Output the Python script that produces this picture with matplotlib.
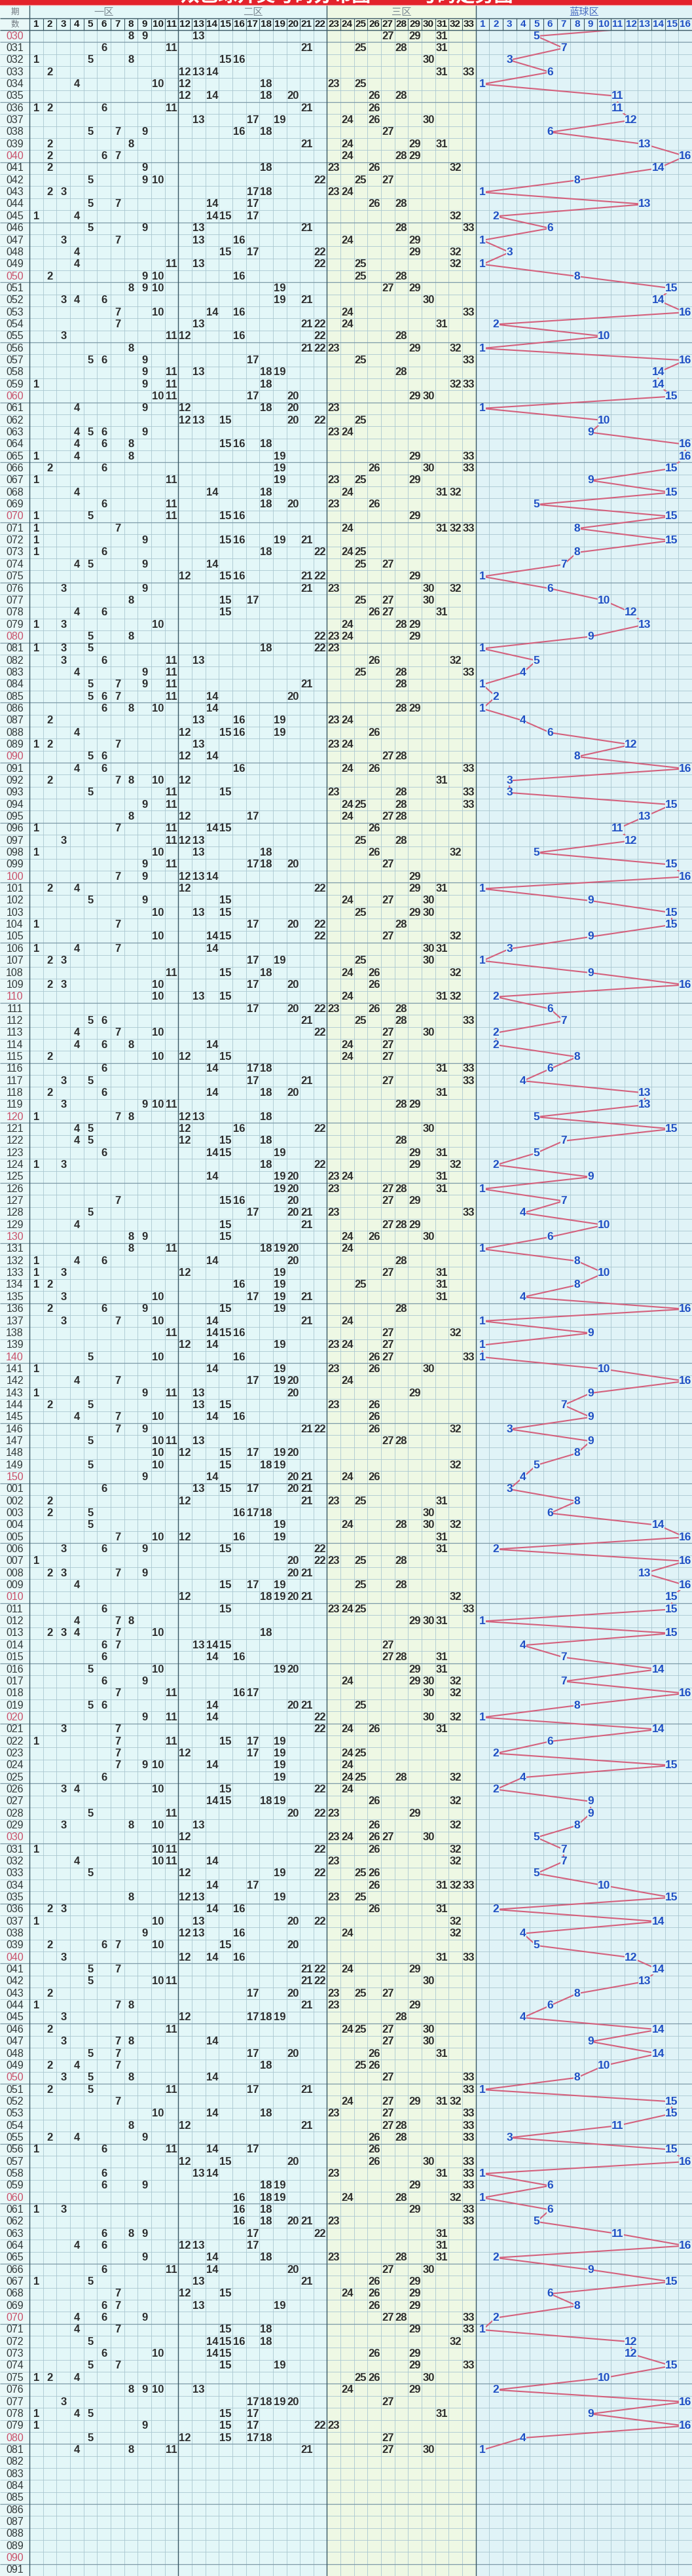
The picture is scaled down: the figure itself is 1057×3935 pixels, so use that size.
import matplotlib
matplotlib.use("Agg")
import matplotlib.pyplot as plt
from matplotlib.patches import Rectangle

# ---- data ----
# issue numbers: 030..150 of the first year, then 001..091 of the next one
issues_a = [f"{n:03d}" for n in range(30, 151)]
issues_b = [f"{n:03d}" for n in range(1, 92)]

# red balls (six per draw) and blue ball, first year 030..150
red_a = [
    [8, 9, 13, 27, 29, 31], [6, 11, 21, 25, 28, 31], [1, 5, 8, 15, 16, 30], [2, 12, 13, 14, 31, 33],
    [4, 10, 12, 18, 23, 25], [12, 14, 18, 20, 26, 28], [1, 2, 6, 11, 21, 26], [13, 17, 19, 24, 26, 30],
    [5, 7, 9, 16, 18, 27], [2, 8, 21, 24, 29, 31], [2, 6, 7, 24, 28, 29], [2, 9, 18, 23, 26, 32],
    [5, 9, 10, 22, 25, 27], [2, 3, 17, 18, 23, 24], [5, 7, 14, 17, 26, 28], [1, 4, 14, 15, 17, 32],
    [5, 9, 13, 21, 28, 33], [3, 7, 13, 16, 24, 29], [4, 15, 17, 22, 29, 32], [4, 11, 13, 22, 25, 32],
    [2, 9, 10, 16, 25, 28], [8, 9, 10, 19, 27, 29], [3, 4, 6, 19, 21, 30], [7, 10, 14, 16, 24, 33],
    [7, 13, 21, 22, 24, 31], [3, 11, 12, 16, 22, 28], [8, 21, 22, 23, 29, 32], [5, 6, 9, 17, 25, 33],
    [9, 11, 13, 18, 19, 28], [1, 9, 11, 18, 32, 33], [10, 11, 17, 20, 29, 30], [4, 9, 12, 18, 20, 23],
    [12, 13, 15, 20, 22, 25], [4, 5, 6, 9, 23, 24], [4, 6, 8, 15, 16, 18], [1, 4, 8, 19, 29, 33],
    [2, 6, 19, 26, 30, 33], [1, 11, 19, 23, 25, 29], [4, 14, 18, 24, 31, 32], [6, 11, 18, 20, 23, 26],
    [1, 5, 11, 15, 16, 29], [1, 7, 24, 31, 32, 33], [1, 9, 15, 16, 19, 21], [1, 6, 18, 22, 24, 25],
    [4, 5, 9, 14, 25, 27], [12, 15, 16, 21, 22, 29], [3, 9, 21, 23, 30, 32], [8, 15, 17, 25, 27, 30],
    [4, 6, 15, 26, 27, 31], [1, 3, 10, 24, 28, 29], [5, 8, 22, 23, 24, 29], [1, 3, 5, 18, 22, 23],
    [3, 6, 11, 13, 26, 32], [4, 9, 11, 25, 28, 33], [5, 7, 9, 11, 21, 28], [5, 6, 7, 11, 14, 20],
    [6, 8, 10, 14, 28, 29], [2, 13, 16, 19, 23, 24], [4, 12, 15, 16, 19, 26], [1, 2, 7, 13, 23, 24],
    [5, 6, 12, 14, 27, 28], [4, 6, 16, 24, 26, 33], [2, 7, 8, 10, 12, 31], [5, 11, 15, 23, 28, 33],
    [9, 11, 24, 25, 28, 33], [8, 12, 17, 24, 27, 28], [1, 7, 11, 14, 15, 26], [3, 11, 12, 13, 25, 28],
    [1, 10, 13, 18, 26, 32], [9, 11, 17, 18, 20, 27], [7, 9, 12, 13, 14, 29], [2, 4, 12, 22, 29, 31],
    [5, 9, 15, 24, 27, 30], [10, 13, 15, 25, 29, 30], [1, 7, 17, 20, 22, 28], [10, 14, 15, 22, 27, 32],
    [1, 4, 7, 14, 30, 31], [2, 3, 17, 19, 25, 30], [11, 15, 18, 24, 26, 32], [2, 3, 10, 17, 20, 26],
    [10, 13, 15, 24, 31, 32], [17, 20, 22, 23, 26, 28], [5, 6, 21, 25, 28, 33], [4, 7, 10, 22, 27, 30],
    [4, 6, 8, 14, 24, 27], [2, 10, 12, 15, 24, 27], [6, 14, 17, 18, 31, 33], [3, 5, 17, 21, 27, 33],
    [2, 6, 14, 18, 20, 31], [3, 9, 10, 11, 28, 29], [1, 7, 8, 12, 13, 18], [4, 5, 12, 16, 22, 30],
    [4, 5, 12, 15, 18, 28], [6, 14, 15, 19, 29, 31], [1, 3, 18, 22, 29, 32], [14, 19, 20, 23, 24, 31],
    [19, 20, 23, 27, 28, 31], [7, 15, 16, 20, 27, 29], [5, 17, 20, 21, 23, 33], [4, 15, 21, 27, 28, 29],
    [8, 9, 15, 24, 26, 30], [8, 11, 18, 19, 20, 24], [1, 4, 6, 14, 20, 28], [1, 3, 12, 19, 27, 31],
    [1, 2, 16, 19, 25, 31], [3, 10, 17, 19, 21, 31], [2, 6, 9, 15, 19, 28], [3, 7, 10, 14, 21, 24],
    [11, 14, 15, 16, 27, 32], [12, 14, 19, 23, 24, 27], [5, 10, 16, 26, 27, 33], [1, 14, 19, 23, 26, 30],
    [4, 7, 17, 19, 20, 24], [1, 9, 11, 13, 20, 29], [2, 5, 13, 15, 23, 26], [4, 7, 10, 14, 16, 26],
    [7, 9, 21, 22, 26, 32], [5, 10, 11, 13, 27, 28], [10, 12, 15, 17, 19, 20], [5, 10, 15, 18, 19, 32],
    [9, 14, 20, 21, 24, 26],
]
blue_a = [
    5, 7, 3, 6, 1, 11, 11, 12, 6, 13, 16, 14, 8, 1, 13, 2, 6, 1, 3, 1,
    8, 15, 14, 16, 2, 10, 1, 16, 14, 14, 15, 1, 10, 9, 16, 16, 15, 9, 15, 5,
    15, 8, 15, 8, 7, 1, 6, 10, 12, 13, 9, 1, 5, 4, 1, 2, 1, 4, 6, 12,
    8, 16, 3, 3, 15, 13, 11, 12, 5, 15, 16, 1, 9, 15, 15, 9, 3, 1, 9, 16,
    2, 6, 7, 2, 2, 8, 6, 4, 13, 13, 5, 15, 7, 5, 2, 9, 1, 7, 4, 10,
    6, 1, 8, 10, 8, 4, 16, 1, 9, 1, 1, 10, 16, 9, 7, 9, 3, 9, 8, 5,
    4,
]

# second year 001..081 (082..091 not drawn yet)
red_b = [
    [6, 13, 15, 17, 20, 21], [2, 12, 21, 23, 25, 31], [2, 5, 16, 17, 18, 30], [5, 19, 24, 28, 30, 32],
    [7, 10, 12, 16, 19, 31], [3, 6, 9, 15, 22, 31], [1, 20, 22, 23, 25, 28], [2, 3, 7, 9, 20, 21],
    [4, 15, 17, 19, 25, 28], [12, 18, 19, 20, 21, 32], [6, 15, 23, 24, 25, 33], [4, 7, 8, 29, 30, 31],
    [2, 3, 4, 7, 10, 18], [6, 7, 13, 14, 15, 27], [6, 14, 16, 27, 28, 31], [5, 10, 19, 20, 29, 31],
    [6, 9, 24, 29, 30, 32], [7, 11, 16, 17, 30, 32], [5, 6, 14, 20, 21, 25], [9, 11, 14, 22, 30, 32],
    [3, 7, 22, 24, 26, 31], [1, 7, 11, 15, 17, 19], [7, 12, 17, 19, 24, 25], [7, 9, 10, 14, 19, 24],
    [6, 19, 24, 25, 28, 32], [3, 4, 10, 15, 22, 24], [14, 15, 18, 19, 26, 32], [5, 11, 20, 22, 23, 29],
    [3, 8, 10, 13, 26, 32], [12, 23, 24, 26, 27, 30], [1, 10, 11, 22, 26, 32], [4, 10, 11, 14, 23, 32],
    [5, 12, 19, 22, 25, 26], [14, 17, 26, 31, 32, 33], [8, 12, 13, 19, 23, 25], [2, 3, 14, 16, 26, 31],
    [1, 10, 13, 20, 22, 32], [9, 12, 13, 16, 24, 32], [2, 6, 7, 10, 15, 20], [3, 12, 14, 16, 31, 33],
    [5, 7, 21, 22, 24, 29], [5, 10, 11, 21, 22, 30], [2, 17, 20, 23, 25, 27], [1, 7, 8, 21, 23, 29],
    [3, 12, 17, 18, 19, 28], [2, 11, 24, 25, 27, 30], [3, 7, 8, 14, 27, 30], [5, 7, 17, 20, 26, 31],
    [2, 4, 7, 18, 25, 26], [3, 5, 8, 14, 27, 33], [2, 5, 11, 17, 21, 33], [7, 24, 27, 29, 31, 32],
    [10, 14, 18, 23, 27, 33], [8, 12, 21, 27, 28, 33], [2, 4, 9, 26, 28, 33], [1, 6, 11, 14, 17, 26],
    [12, 15, 20, 26, 30, 33], [6, 13, 14, 23, 31, 33], [6, 9, 18, 19, 29, 33], [16, 18, 19, 24, 28, 32],
    [1, 3, 16, 18, 29, 33], [16, 18, 20, 21, 23, 33], [6, 8, 9, 17, 22, 31], [4, 6, 12, 13, 17, 31],
    [9, 14, 18, 23, 28, 31], [6, 11, 14, 20, 27, 30], [1, 5, 13, 21, 26, 29], [7, 12, 15, 24, 26, 29],
    [6, 7, 13, 19, 26, 29], [4, 6, 9, 27, 28, 33], [4, 7, 15, 18, 29, 33], [5, 14, 15, 16, 18, 32],
    [6, 10, 14, 15, 26, 29], [5, 7, 15, 19, 29, 33], [1, 2, 4, 25, 26, 30], [8, 9, 10, 13, 24, 29],
    [3, 17, 18, 19, 20, 27], [1, 4, 5, 15, 17, 31], [1, 9, 15, 17, 22, 23], [5, 12, 15, 17, 18, 27],
    [4, 8, 11, 21, 27, 30],
]
blue_b = [
    3, 8, 6, 14, 16, 2, 16, 13, 16, 15, 15, 1, 15, 4, 7, 14, 7, 16, 8, 1,
    14, 6, 2, 15, 4, 2, 9, 9, 8, 5, 7, 7, 5, 10, 15, 2, 14, 4, 5, 12,
    14, 13, 8, 6, 4, 14, 9, 14, 10, 8, 1, 15, 15, 11, 3, 15, 16, 1, 6, 1,
    6, 5, 11, 16, 2, 9, 15, 6, 8, 2, 1, 12, 12, 15, 10, 2, 16, 9, 16, 4,
    1,
]
blue_before = 16  # issue 029, hidden under the header; only its segment shows

zone_names = ["一区", "二区", "三区"]
title_left = "双色球开奖号码分布图"
title_right = "号码走势图"

issues = issues_a + issues_b
reds = red_a + red_b
blues = blue_a + blue_b
n_rows = len(issues)

# ---- geometry (axis units: 1 column wide, 1 row tall) ----
W, H = 1057, 3935
COL_PX = 20.65
HEAD_PX = 46
ROW_PX = (H - HEAD_PX) / n_rows
label_w = W / COL_PX - 49
head_h = HEAD_PX / ROW_PX
banner_b = -(HEAD_PX - 8) / ROW_PX
head_mid = -(HEAD_PX - 28) / ROW_PX

BG_RED = "#e3f7f8"
BG_Z3 = "#eef8e4"
BG_BLUE = "#e0f3f7"
BG_LAB = "#e9f8f8"
GRID = "#a9c6d0"
DARK = "#3a5864"
LINE_RED = "#d4607c"
BLUE_TXT = "#1f4fc4"

DIGITS = ["Liberation Sans", "DejaVu Sans"]
NARROW = ["Liberation Sans Narrow", "Liberation Sans", "DejaVu Sans"]
CJK = ["Noto Sans CJK SC", "DejaVu Sans"]

fig = plt.figure(figsize=(W / 100, H / 100), dpi=100)
ax = fig.add_axes([0, 0, 1, 1])
ax.set_xlim(-label_w, 49)
ax.set_ylim(n_rows, -head_h)
ax.axis("off")

# zone backgrounds
for x0, x1, c in [(-label_w, 0, BG_LAB), (0, 22, BG_RED), (22, 33, BG_Z3), (33, 49, BG_BLUE)]:
    ax.add_patch(Rectangle((x0, -head_h), x1 - x0, n_rows + head_h, fc=c, ec="none", zorder=0))

# grid
ax.hlines(range(n_rows + 1), -label_w, 49, color=GRID, lw=0.6, zorder=1)
ax.vlines(range(1, 49), 0, n_rows, color=GRID, lw=0.6, zorder=1)
fives = [i + 1 for i, lab in enumerate(issues) if int(lab) % 5 == 0]
ax.hlines(fives, -label_w, 49, color="#7d9aa8", lw=0.9, zorder=1)
ax.vlines([0, 11, 22, 33], 0, n_rows, color=DARK, lw=1.0, zorder=2)

# issue labels
for i, lab in enumerate(issues):
    col = "#c8506a" if int(lab) % 10 == 0 else "#303838"
    ax.text(-label_w / 2, i + 0.5, lab, ha="center", va="center", fontsize=11.5,
            family=NARROW, color=col, zorder=4)

# red balls
for i, nums in enumerate(reds):
    for n in nums:
        ax.text(n - 0.5, i + 0.5, str(n), ha="center", va="center", fontsize=12,
                family=DIGITS, weight="bold", color="#2c2c2c", zorder=4)

# blue ball trend line
bx = [33 + blue_before - 0.5] + [33 + b - 0.5 for b in blues]
by = [-0.5] + [i + 0.5 for i in range(len(blues))]
ax.plot(bx, by, color=LINE_RED, lw=1.5, zorder=3, solid_joinstyle="miter")
for i, b in enumerate(blues):
    ax.text(33 + b - 0.5, i + 0.5, str(b), ha="center", va="center", fontsize=12.5,
            family=DIGITS, weight="bold", color=BLUE_TXT, zorder=4,
            bbox=dict(boxstyle="square,pad=0.02", fc=BG_BLUE, ec="none"))

# ---- header ----
for x0, x1, c in [(-label_w, 0, BG_LAB), (0, 22, BG_RED), (22, 33, BG_Z3), (33, 49, BG_BLUE)]:
    ax.add_patch(Rectangle((x0, -head_h), x1 - x0, head_h, fc=c, ec="none", zorder=5))
ax.add_patch(Rectangle((-label_w, -head_h), 49 + label_w, banner_b + head_h,
                       fc="#e3222b", ec="none", zorder=6))
ax.hlines([head_mid, 0], -label_w, 49, color=DARK, lw=1.0, zorder=6)
ax.hlines([banner_b], -label_w, 49, color="#f4d0d0", lw=1.0, zorder=6)
ax.vlines(range(1, 49), head_mid, 0, color=DARK, lw=0.8, zorder=6)
ax.vlines([0, 11, 22, 33], banner_b, 0, color=DARK, lw=1.0, zorder=6)

ax.text(18.2, banner_b, title_left, ha="center", va="bottom", fontsize=21,
        family=CJK, weight="bold", color="white", zorder=7)
ax.text(32.25, banner_b, title_right, ha="center", va="bottom", fontsize=21,
        family=CJK, weight="bold", color="white", zorder=7)

ymid1 = (banner_b + head_mid) / 2
ymid2 = head_mid / 2
ax.text(-label_w / 2, ymid1, "期", ha="center", va="center", fontsize=9,
        family=CJK, color="#707880", zorder=7)
ax.text(-label_w / 2, ymid2, "数", ha="center", va="center", fontsize=9,
        family=CJK, color="#707880", zorder=7)
for k, name in enumerate(zone_names):
    ax.text(k * 11 + 5.5, ymid1, name, ha="center", va="center", fontsize=11,
            family=CJK, color="#7a8890", zorder=7)
ax.text(41, ymid1, "蓝球区", ha="center", va="center", fontsize=11,
        family=CJK, color="#4a6cc0", zorder=7)
for n in range(1, 34):
    ax.text(n - 0.5, ymid2, str(n), ha="center", va="center", fontsize=11,
            family=NARROW, weight="bold", color="#1c1c1c", zorder=7)
for n in range(1, 17):
    ax.text(33 + n - 0.5, ymid2, str(n), ha="center", va="center", fontsize=11,
            family=NARROW, weight="bold", color=BLUE_TXT, zorder=7)

fig.savefig("out.png", dpi=100)
